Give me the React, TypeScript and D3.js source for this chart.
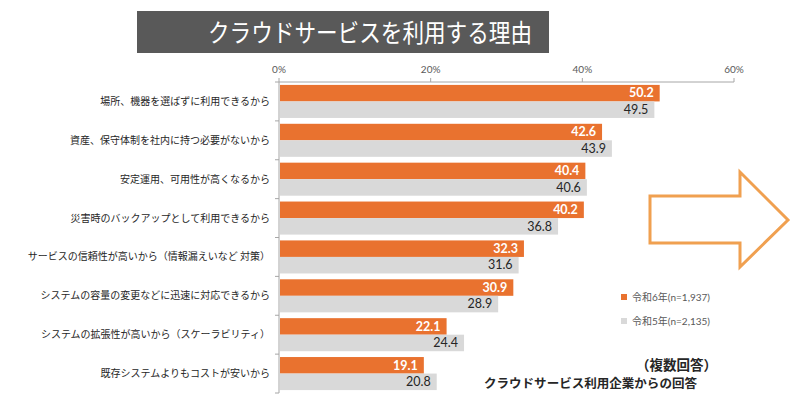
import { scaleBand, scaleLinear } from "d3";

const categories = [
  "場所、機器を選ばずに利用できるから",
  "資産、保守体制を社内に持つ必要がないから",
  "安定運用、可用性が高くなるから",
  "災害時のバックアップとして利用できるから",
  "サービスの信頼性が高いから（情報漏えいなど 対策）",
  "システムの容量の変更などに迅速に対応できるから",
  "システムの拡張性が高いから（スケーラビリティ）",
  "既存システムよりもコストが安いから",
];
const valuesR6 = [50.2, 42.6, 40.4, 40.2, 32.3, 30.9, 22.1, 19.1];
const valuesR5 = [49.5, 43.9, 40.6, 36.8, 31.6, 28.9, 24.4, 20.8];
const seriesKeys = ["r6", "r5"];
const seriesNames = ["令和6年(n=1,937)", "令和5年(n=2,135)"];
const tickValues = [0, 20, 40, 60];

const WIDTH = 800;
const HEIGHT = 394;
const PLOT_LEFT = 279;
const PLOT_RIGHT = 734;
const PLOT_TOP = 82;
const PLOT_BOTTOM = 393;
const ORANGE = "#E9722F";
const GRAY = "#D9D9D9";
const AXIS = "#A6A6A6";
const LATIN = "Lato, 'Noto Sans CJK JP', sans-serif";
const CJK = "'Noto Sans CJK JP', sans-serif";

export default function App() {
  const xScale = scaleLinear().domain([0, 60]).range([PLOT_LEFT, PLOT_RIGHT]);
  const yScale = scaleBand<string>()
    .domain(categories)
    .range([PLOT_TOP, PLOT_BOTTOM])
    .paddingInner(0.15)
    .paddingOuter(0.075);
  const subScale = scaleBand<string>().domain(seriesKeys).range([0, yScale.bandwidth()]);
  const step = yScale.step();
  const boundaries = categories.map((_, i) => PLOT_TOP + i * step).concat([PLOT_BOTTOM]);

  return (
    <svg
      width={WIDTH}
      height={HEIGHT}
      style={{ position: "absolute", left: 0, top: 0, background: "#fff" }}
    >
      {/* title */}
      <rect x={137} y={11} width={412} height={42} fill="#595959" />
      <text
        x={208}
        y={42}
        fill="#fff"
        fontFamily={CJK}
        fontSize={25}
        textLength={324}
        lengthAdjust="spacingAndGlyphs"
      >
        クラウドサービスを利用する理由
      </text>

      {/* top axis */}
      <line x1={PLOT_LEFT} x2={PLOT_RIGHT} y1={PLOT_TOP} y2={PLOT_TOP} stroke={AXIS} />
      {tickValues.map((t) => (
        <g key={t}>
          <line x1={xScale(t)} x2={xScale(t)} y1={PLOT_TOP - 4} y2={PLOT_TOP} stroke={AXIS} />
          <text
            x={xScale(t)}
            y={73}
            textAnchor="middle"
            fontFamily={LATIN}
            fontSize={10}
            fill="#595959"
          >
            {t}%
          </text>
        </g>
      ))}

      {/* left axis */}
      <line x1={PLOT_LEFT} x2={PLOT_LEFT} y1={PLOT_TOP} y2={PLOT_BOTTOM} stroke={AXIS} />
      {boundaries.map((b, i) => (
        <line key={i} x1={PLOT_LEFT - 4} x2={PLOT_LEFT} y1={b} y2={b} stroke={AXIS} />
      ))}

      {categories.map((c, i) => {
        const y0 = yScale(c) ?? 0;
        const yR6 = y0 + (subScale("r6") ?? 0);
        const yR5 = y0 + (subScale("r5") ?? 0);
        const bh = subScale.bandwidth();
        return (
          <g key={c}>
            <text
              x={270}
              y={y0 + yScale.bandwidth() / 2 + 3.5}
              textAnchor="end"
              fontFamily={CJK}
              fontSize={10}
              fill="#262626"
            >
              {c}
            </text>
            <rect x={PLOT_LEFT + 1} y={yR6} width={xScale(valuesR6[i]) - PLOT_LEFT - 1} height={bh} fill={ORANGE} />
            <rect x={PLOT_LEFT + 1} y={yR5} width={xScale(valuesR5[i]) - PLOT_LEFT - 1} height={bh} fill={GRAY} />
            <text
              x={xScale(valuesR6[i]) - 6}
              y={yR6 + bh / 2 + 4.3}
              textAnchor="end"
              fontFamily={LATIN}
              fontWeight="bold"
              fontSize={12.5}
              fill="#fff"
            >
              {valuesR6[i].toFixed(1)}
            </text>
            <text
              x={xScale(valuesR5[i]) - 6}
              y={yR5 + bh / 2 + 4.3}
              textAnchor="end"
              fontFamily={LATIN}
              fontSize={12.5}
              fill="#262626"
            >
              {valuesR5[i].toFixed(1)}
            </text>
          </g>
        );
      })}

      {/* arrow */}
      <path
        d="M650,196 L740,196 L740,172 L788,220 L740,267 L740,243 L650,243 Z"
        fill="#fff"
        stroke="#F0A050"
        strokeWidth={3}
      />

      {/* legend */}
      {seriesNames.map((name, i) => (
        <g key={name}>
          <rect x={621} y={294 + i * 24} width={6} height={6} fill={i === 0 ? ORANGE : GRAY} />
          <text x={632} y={301 + i * 24} fontFamily={LATIN} fontSize={10} fill="#595959">
            {name}
          </text>
        </g>
      ))}

      {/* notes */}
      <text x={636} y={370} fontFamily={CJK} fontWeight="bold" fontSize={13.5} fill="#262626">
        （複数回答）
      </text>
      <text
        x={484}
        y={388}
        fontFamily={CJK}
        fontWeight="bold"
        fontSize={12}
        fill="#262626"
        textLength={213}
        lengthAdjust="spacingAndGlyphs"
      >
        クラウドサービス利用企業からの回答
      </text>
    </svg>
  );
}
